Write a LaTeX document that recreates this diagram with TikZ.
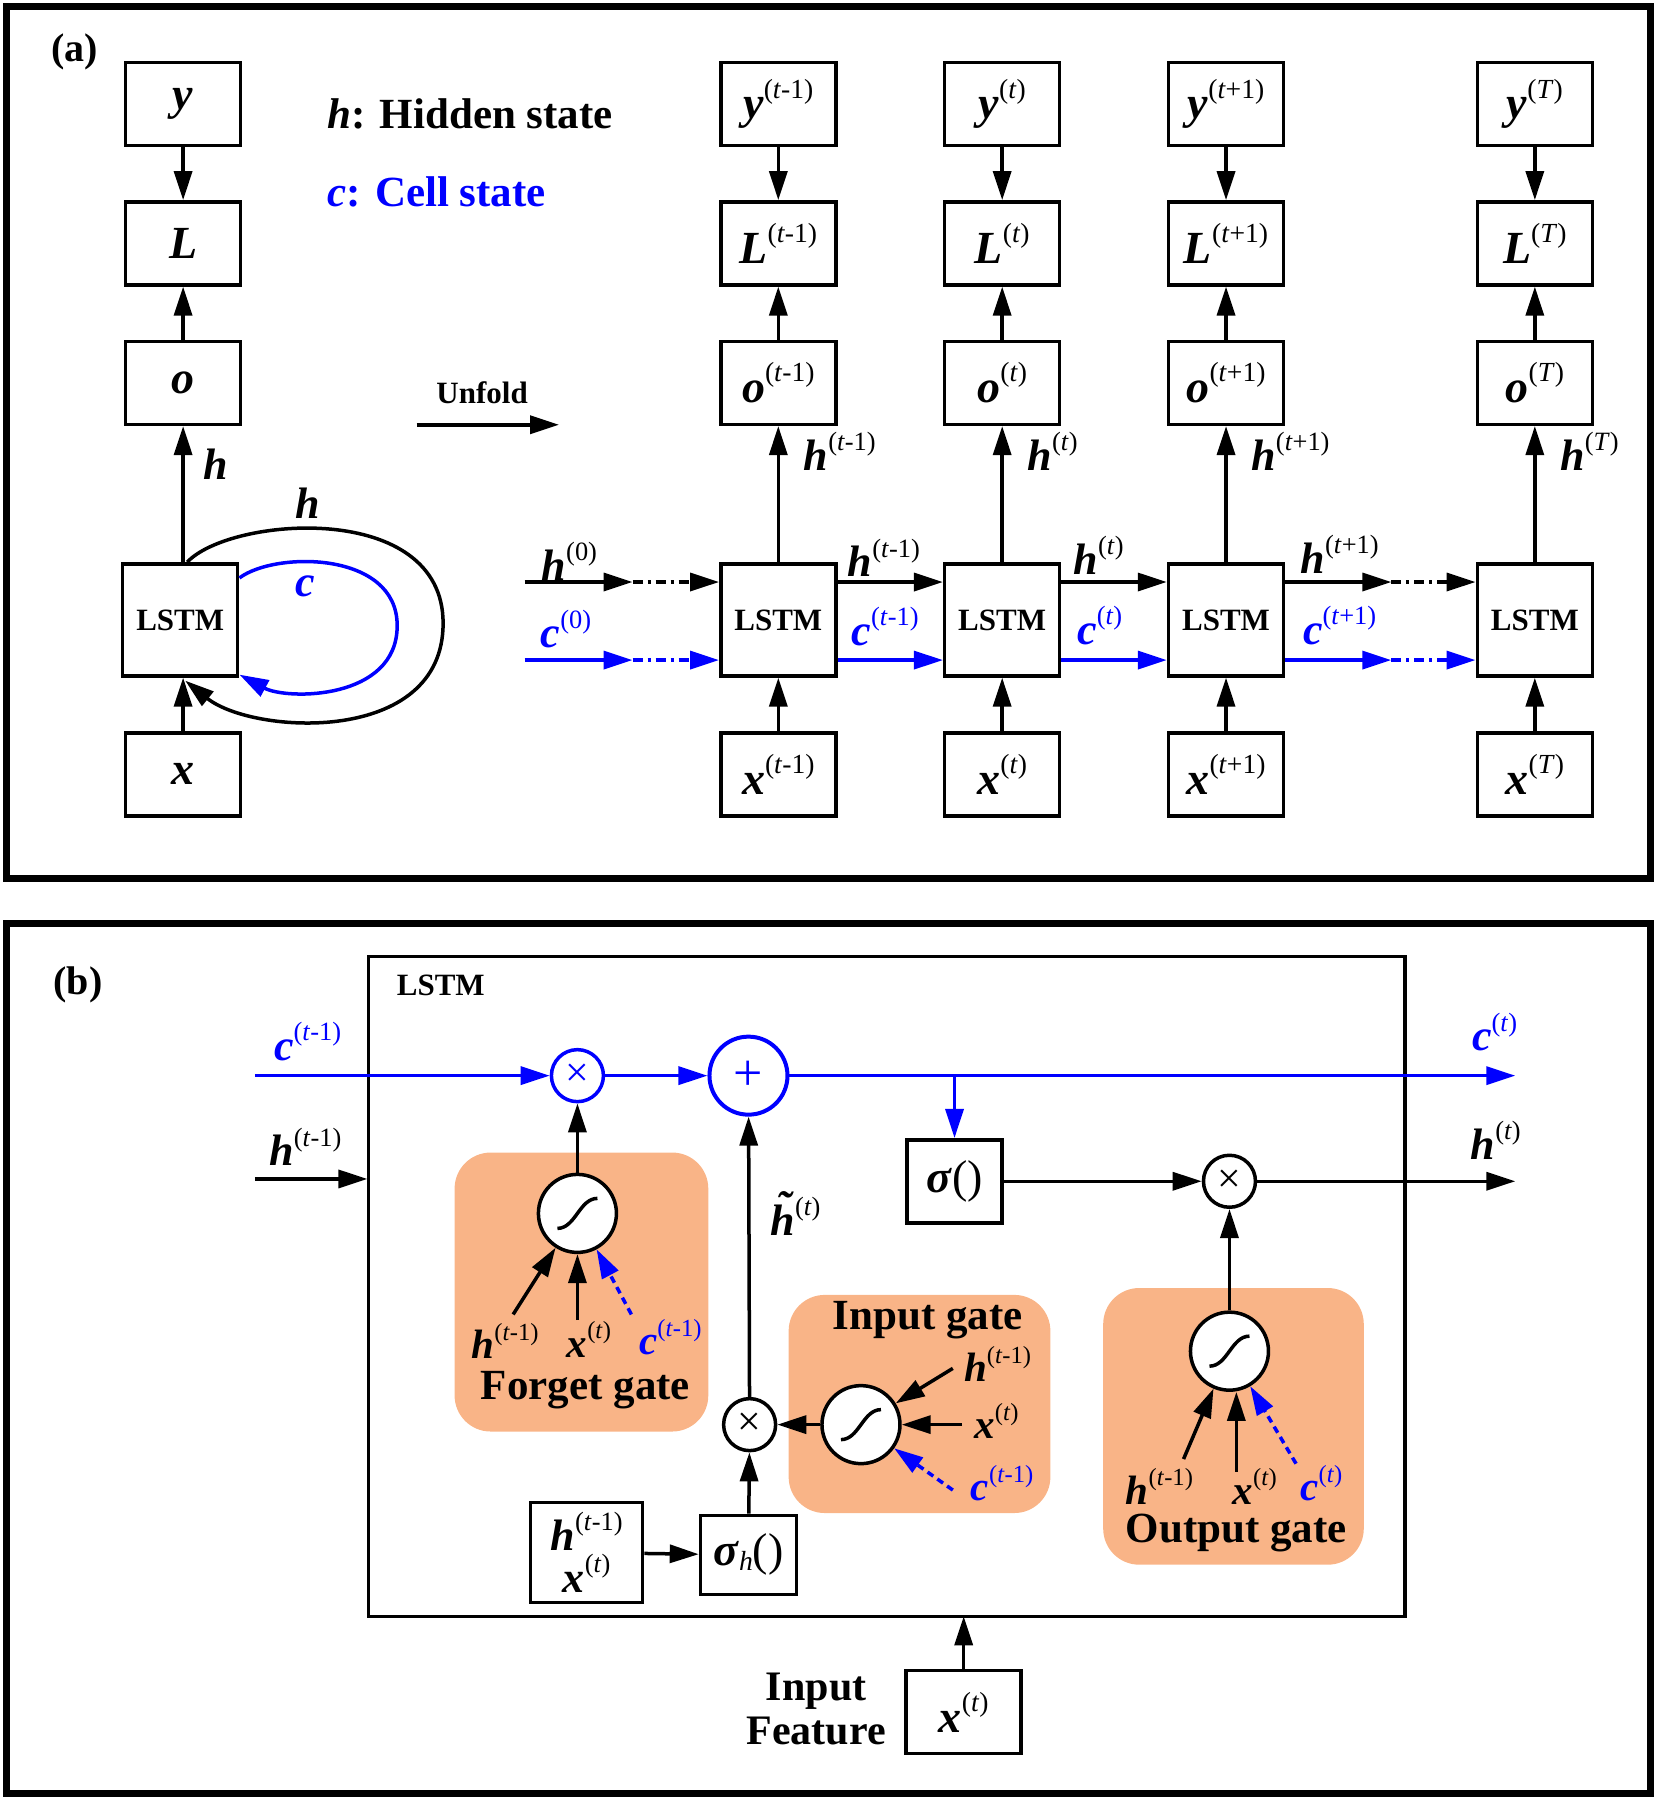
\documentclass[tikz,border=0pt]{standalone}
\usepackage{fontspec}
\setmainfont{Liberation Serif}
\usetikzlibrary{arrows.meta}
\definecolor{og}{RGB}{249,180,135}
\definecolor{bl}{RGB}{0,0,255}
\newcommand\sups[1]{\raisebox{0.45em}{\scalebox{0.6}{\mdseries\upshape #1}}}
\newcommand\vb[2]{\textbf{\textit{#1}}\sups{#2}}
\newcommand\ti{\textit{t}}
\newcommand\htil{\makebox[0pt][l]{\hspace{0.14em}\raisebox{0.3em}{\textbf{\textit{\char"02DC}}}}\textbf{\textit{h}}}
\tikzset{
  box/.style={draw, line width=3.5pt, minimum width=115pt, minimum height=83pt, inner sep=0pt, fill=white, font=\fontsize{46}{48}\selectfont},
  lbox/.style={box, minimum height=112pt, font=\fontsize{31}{34}\selectfont\bfseries},
  ar/.style={line width=3.5pt, -{Triangle[length=29pt,width=18pt]}},
  bar/.style={ar, draw=bl, color=bl},
  dd/.style={dash pattern=on 10pt off 5pt on 3pt off 5pt},
  dsh/.style={dash pattern=on 7pt off 5pt},
  lab/.style={font=\fontsize{44}{46}\selectfont, inner sep=0pt},
  slab/.style={font=\fontsize{41}{44}\selectfont, inner sep=0pt},
  gate/.style={fill=og, draw=none, rounded corners=36pt},
  sig/.style={circle, draw, line width=3.5pt, minimum size=78pt, fill=white, inner sep=0pt},
  mul/.style={circle, draw, line width=3.5pt, minimum size=52pt, inner sep=0pt, fill=white, font=\fontsize{42}{42}\selectfont},
  frame/.style={line width=7pt},
  scurve/.pic={\draw[line width=3.5pt] (-20pt,-15pt) .. controls (-2pt,-15pt) and (2pt,15pt) .. (20pt,15pt);}
}
\begin{document}
\begin{tikzpicture}[x=1.1477pt,y=-1.1477pt]
\useasboundingbox (0,0) rectangle (1442,1568);
% ---------------- panel (a)
\draw[frame] (5.8,5.8) rectangle (1437.8,765.4);
\node[lab, font=\fontsize{40}{44}\selectfont\bfseries] (la) at (65,45) {(a)};
\node[box] (y0) at (159.5,90.5) {\textbf{\textit{y}}};
\node[box] (L0) at (159.5,212) {\textbf{\textit{L}}};
\node[box] (o0) at (159.5,333.5) {\textbf{\textit{o}}};
\node[lbox] (S0) at (157,540) {LSTM};
\node[box] (x0) at (159.5,674.5) {\textbf{\textit{x}}};
\draw[ar] (y0) -- (L0);
\draw[ar] (o0) -- (L0);
\draw[ar] (o0.south |- S0.north) -- (o0);
\draw[ar] (x0) -- (x0.north |- S0.south);
\node[lab] (hl0) at (188,404) {\textbf{\textit{h}}};
\draw[line width=3.5pt, -{Triangle[length=29pt,width=18pt]}] ([xshift=7pt]S0.north) .. controls (200,450) and (386,435) .. (386,543) .. controls (386,650) and (220,640) .. ([xshift=5pt,yshift=-3pt]S0.south);
\node[lab] (hl1) at (268,438) {\textbf{\textit{h}}};
\draw[line width=3.5pt, draw=bl, color=bl, -{Triangle[length=29pt,width=18pt]}] ([yshift=42pt]S0.east) .. controls (240,480) and (346,480) .. (346,545) .. controls (346,610) and (250,610) .. ([yshift=3pt]S0.south east);
\node[lab, text=bl] (cl0) at (266,511) {\textbf{\textit{c}}};
\node[lab, anchor=west, font=\fontsize{43}{46}\selectfont\bfseries] (leg1) at (285,99) {\textit{h}: Hidden state};
\node[lab, anchor=west, text=bl, font=\fontsize{43}{46}\selectfont\bfseries] (leg2) at (285,167) {\textit{c}: Cell state};
\node[lab, font=\fontsize{31}{34}\selectfont\bfseries] (unf) at (420,342) {Unfold};
\coordinate (u1) at (363,370);
\coordinate (u2) at (487,370);
\draw[ar] (u1) -- (u2);
\foreach \i/\cx/\s in {1/678/{(\ti-1)},2/873/{(\ti)},3/1068/{(\ti+1)},4/1337/{(\textit{T})}}{
  \node[box] (y\i) at (\cx,90.5) {\vb{y}{\s}};
  \node[box] (L\i) at (\cx,212) {\vb{L}{\s}};
  \node[box] (o\i) at (\cx,333.5) {\vb{o}{\s}};
  \node[lbox] (S\i) at (\cx,540) {LSTM};
  \node[box] (x\i) at (\cx,674.5) {\vb{x}{\s}};
  \draw[ar] (y\i) -- (L\i);
  \draw[ar] (o\i) -- (L\i);
  \draw[ar] (S\i) -- (o\i);
  \draw[ar] (x\i) -- (S\i);
  \node[lab, anchor=west] (hv\i) at (\cx+22,393) {\vb{h}{\s}};
}
\coordinate (hrow) at (0,507);
\coordinate (crow) at (0,575);
\coordinate (hs) at (457,507);
\coordinate (hm) at (551,507);
\coordinate (cs) at (457,575);
\coordinate (cm) at (551,575);
\draw[ar] (hs) -- (hm);
\draw[ar, dd] (hm) -- (S1.west |- hrow);
\draw[bar] (cs) -- (cm);
\draw[bar, dd] (cm) -- (S1.west |- crow);
\draw[ar] (S1.east |- hrow) -- (S2.west |- hrow);
\draw[ar] (S2.east |- hrow) -- (S3.west |- hrow);
\draw[bar] (S1.east |- crow) -- (S2.west |- crow);
\draw[bar] (S2.east |- crow) -- (S3.west |- crow);
\coordinate (hm2) at (1212,507);
\coordinate (cm2) at (1212,575);
\draw[ar] (S3.east |- hrow) -- (hm2);
\draw[ar, dd] (hm2) -- (S4.west |- hrow);
\draw[bar] (S3.east |- crow) -- (cm2);
\draw[bar, dd] (cm2) -- (S4.west |- crow);
\node[lab] (h0) at (496,489) {\vb{h}{(0)}};
\node[lab] (hb1) at (770,486) {\vb{h}{(\ti-1)}};
\node[lab] (hb2) at (957,484) {\vb{h}{(\ti)}};
\node[lab] (hb3) at (1167,483) {\vb{h}{(\ti+1)}};
\node[lab, text=bl] (c0) at (493,548) {\vb{c}{(0)}};
\node[lab, text=bl] (cb1) at (771,546) {\vb{c}{(\ti-1)}};
\node[lab, text=bl] (cb2) at (958,545) {\vb{c}{(\ti)}};
\node[lab, text=bl] (cb3) at (1167,545) {\vb{c}{(\ti+1)}};
% ---------------- panel (b)
\draw[frame] (5.8,804.6) rectangle (1437.8,1562.5);
\node[lab, font=\fontsize{40}{44}\selectfont\bfseries] (lb) at (68,858) {(b)};
\draw[line width=3.5pt] (321,833) rectangle (1224,1408);
\node[lab, font=\fontsize{31}{34}\selectfont\bfseries] (lstmb) at (384,858) {LSTM};
% gates backgrounds
\path[gate] (396,1004) rectangle (617,1247);
\path[gate] (687,1128) rectangle (915,1318);
\path[gate] (961,1122) rectangle (1188,1363);
% cell line
\coordinate (cin) at (222,937);
\coordinate (cout) at (1320,937);
\node[mul, draw=bl, text=bl] (mc) at (503,937) {×};
\node[sig, draw=bl, text=bl, font=\fontsize{52}{52}\selectfont, line width=4pt] (pl) at (652,937) {+};
\draw[bar] (cin) -- (mc);
\draw[bar] (mc) -- (pl);
\draw[bar] (pl) -- (cout);
\node[lab, text=bl] (cl1) at (268,907) {\vb{c}{(\ti-1)}};
\node[lab, text=bl] (cl2) at (1302,899) {\vb{c}{(\ti)}};
\node[box, minimum width=95pt, minimum height=83pt] (sg) at (831.5,1029) {\textbf{\textit{σ}}()};
\coordinate (br) at (sg.north |- cin);
\draw[bar] (br) -- (sg);
\coordinate (hin) at (222,1027);
\coordinate (hin2) at (320,1027);
\draw[ar] (hin) -- (hin2);
\node[lab] (hl2) at (266,999) {\vb{h}{(\ti-1)}};
\node[mul] (mh) at (1071,1029) {×};
\coordinate (hout) at (1320,1029);
\draw[ar] (sg) -- (mh);
\draw[ar] (mh) -- (hout);
\node[lab] (hl3) at (1303,993) {\vb{h}{(\ti)}};
% forget gate
\node[sig] (sf) at (503,1057) {};
\pic at (sf) {scurve};
\draw[ar] (sf) -- (mc);
\coordinate (fh) at (447,1145);
\coordinate (fx) at (503,1150);
\coordinate (fc) at (550,1145);
\draw[ar] (fh) -- (sf);
\draw[ar] (fx) -- (sf);
\draw[bar, dsh] (fc) -- (sf);
\node[slab] (fhl) at (440,1168) {\vb{h}{(\ti-1)}};
\node[slab] (fxl) at (513,1167) {\vb{x}{(\ti)}};
\node[slab, text=bl] (fcl) at (584,1165) {\vb{c}{(\ti-1)}};
\node[lab, font=\fontsize{43}{46}\selectfont\bfseries] (fg) at (510,1211) {Forget gate};
% input gate
\node[mul] (mi) at (653,1241) {×};
\draw[ar] (mi) -- (pl);
\node[lab] (ht) at (693,1057) {\htil\sups{(\ti)}};
\node[sig] (si) at (750,1241) {};
\pic at (si) {scurve};
\draw[ar] (si) -- (mi);
\coordinate (ih) at (830,1192);
\coordinate (ix) at (838,1241);
\coordinate (ic) at (830,1298);
\draw[ar] (ih) -- (si);
\draw[ar] (ix) -- (si);
\draw[bar, dsh] (ic) -- (si);
\node[slab] (ihl) at (869,1188) {\vb{h}{(\ti-1)}};
\node[slab] (ixl) at (868,1238) {\vb{x}{(\ti)}};
\node[slab, text=bl] (icl) at (873,1292) {\vb{c}{(\ti-1)}};
\node[lab, font=\fontsize{43}{46}\selectfont\bfseries] (ig) at (808,1150) {Input gate};
\node[box, minimum width=112pt, minimum height=100pt, align=center, font=\fontsize{44}{42}\selectfont] (hx) at (511,1352.5) {\vb{h}{(\ti-1)}\\\vb{x}{(\ti)}};
\node[box, minimum width=96pt, minimum height=79pt] (sh) at (652,1354.5) {\textbf{\textit{σ}}\raisebox{-0.1em}{\scalebox{0.6}{\textit{h}}}()};
\draw[ar] (hx) -- (sh);
\draw[ar] (sh) -- (mi);
% output gate
\node[sig] (so) at (1071,1177) {};
\pic at (so) {scurve};
\draw[ar] (so) -- (mh);
\coordinate (oh) at (1031,1271);
\coordinate (ox) at (1077,1282);
\coordinate (oc) at (1129,1275);
\draw[ar] (oh) -- (so);
\draw[ar] (ox) -- (ox |- so.south);
\draw[bar, dsh] (oc) -- (so);
\node[slab] (ohl) at (1010,1295) {\vb{h}{(\ti-1)}};
\node[slab] (oxl) at (1093,1295) {\vb{x}{(\ti)}};
\node[slab, text=bl] (ocl) at (1151,1292) {\vb{c}{(\ti)}};
\node[lab, font=\fontsize{43}{46}\selectfont\bfseries] (outg) at (1077,1335) {Output gate};
% input feature
\node[box] (xf) at (839.5,1491.5) {\vb{x}{(\ti)}};
\coordinate (xft) at (xf.north |- 0,1408);
\draw[ar] (xf) -- (xft);
\node[lab, align=center, font=\fontsize{42}{44}\selectfont\bfseries] (inf) at (711,1489) {Input\\Feature};
\end{tikzpicture}
\end{document}
